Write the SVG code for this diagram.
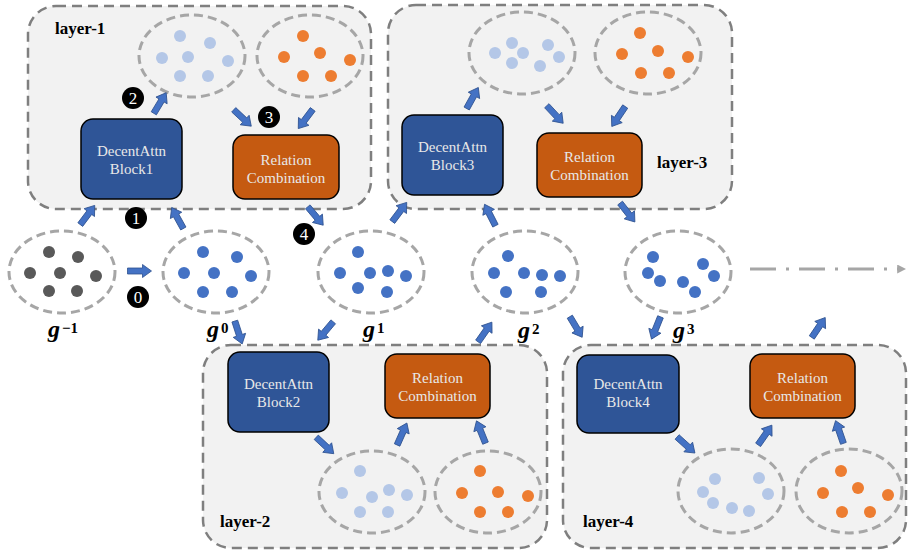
<svg xmlns="http://www.w3.org/2000/svg" xmlns:xlink="http://www.w3.org/1999/xlink" width="908" height="550" viewBox="0 0 908 550">
<style>
.layer{fill:#F2F2F2;stroke:#7F7F7F;stroke-width:2.5;stroke-dasharray:10 6}
.ell{fill:none;stroke:#A6A6A6;stroke-width:3;stroke-dasharray:9 5}
.ellw{fill:#FFFFFF;stroke:#A6A6A6;stroke-width:3;stroke-dasharray:9 5}
.blk{fill:#2F5597;stroke:#000;stroke-width:1.5}
.rel{fill:#C55A11;stroke:#000;stroke-width:1.5}
.bt{font-family:"Liberation Serif","Times New Roman",serif;font-size:15px;fill:#E8E8E8;text-anchor:middle}
.lt{font-family:"Liberation Serif","Times New Roman",serif;font-size:17px;font-weight:bold;fill:#000}
.gl{font-family:"Liberation Serif","Times New Roman",serif;font-size:24px;font-weight:bold;font-style:italic;fill:#000}
.sup{font-size:15px;font-style:normal}
.gray{fill:#595959}
.blue{fill:#4472C4}
.lb{fill:#B4C7E7}
.or{fill:#ED7D31}
.badge circle{fill:#000}
.badge text{font-family:"Liberation Serif","Times New Roman",serif;font-size:17px;fill:#FFF;text-anchor:middle}
.ba{fill:#4472C4;stroke:#2F528F;stroke-width:0.8}
.dd{fill:none;stroke:#A6A6A6;stroke-width:3;stroke-dasharray:26 10 3 10}
</style>
<defs>
<path id="ba" d="M-12,-3 L3,-3 L3,-6.5 L12,0 L3,6.5 L3,3 L-12,3 Z"/>
<marker id="ddh" viewBox="0 0 10 10" refX="2" refY="5" markerWidth="3" markerHeight="3" orient="auto">
<path d="M0,0 L10,5 L0,10 Z" fill="#A6A6A6"/>
</marker>
</defs>

<!-- containers -->
<g id="layer-1">
<rect class="layer" x="28" y="6" width="343" height="203" rx="28"/>
<text class="lt" x="55" y="34">layer-1</text>
</g>
<g id="layer-3">
<rect class="layer" x="388" y="5" width="344" height="204" rx="28"/>
<text class="lt" x="657" y="168">layer-3</text>
</g>
<g id="layer-2">
<rect class="layer" x="203" y="345" width="344" height="203" rx="28"/>
<text class="lt" x="220" y="527">layer-2</text>
</g>
<g id="layer-4">
<rect class="layer" x="563" y="345" width="343" height="203" rx="28"/>
<text class="lt" x="583" y="527">layer-4</text>
</g>

<!-- layer-1 contents -->
<g id="attn1-out">
<ellipse class="ell" cx="192" cy="56" rx="53" ry="41"/>
<g class="lb"><circle cx="180" cy="36" r="6"/><circle cx="210" cy="43" r="6"/><circle cx="162" cy="58" r="6"/><circle cx="188" cy="57" r="6"/><circle cx="228" cy="61" r="6"/><circle cx="180" cy="76" r="6"/><circle cx="208" cy="76" r="6"/></g>
</g>
<g id="rel1-in">
<ellipse class="ell" cx="310" cy="56" rx="53" ry="41"/>
<g class="or"><circle cx="303" cy="36" r="6"/><circle cx="284" cy="57" r="6"/><circle cx="320" cy="53" r="6"/><circle cx="350" cy="60" r="6"/><circle cx="303" cy="76" r="6"/><circle cx="331" cy="76" r="6"/></g>
</g>
<g id="block1">
<rect class="blk" x="81" y="119" width="101" height="80" rx="12"/>
<text class="bt" x="131.5" y="156">DecentAttn</text>
<text class="bt" x="131.5" y="174">Block1</text>
</g>
<g id="rel1">
<rect class="rel" x="233" y="135" width="106" height="64" rx="12"/>
<text class="bt" x="286" y="165">Relation</text>
<text class="bt" x="286" y="183">Combination</text>
</g>

<!-- layer-3 contents -->
<g id="attn3-out">
<ellipse class="ell" cx="522" cy="53" rx="53" ry="41"/>
<g class="lb"><circle cx="512" cy="43" r="6"/><circle cx="548" cy="45" r="6"/><circle cx="495" cy="53" r="6"/><circle cx="523" cy="53" r="6"/><circle cx="559" cy="57" r="6"/><circle cx="512" cy="63" r="6"/><circle cx="540" cy="66" r="6"/></g>
</g>
<g id="rel3-in">
<ellipse class="ell" cx="648" cy="53" rx="53" ry="41"/>
<g class="or"><circle cx="640" cy="33" r="6"/><circle cx="622" cy="54" r="6"/><circle cx="658" cy="51" r="6"/><circle cx="688" cy="57" r="6"/><circle cx="641" cy="73" r="6"/><circle cx="669" cy="73" r="6"/></g>
</g>
<g id="block3">
<rect class="blk" x="402" y="115" width="101" height="80" rx="12"/>
<text class="bt" x="452.5" y="152">DecentAttn</text>
<text class="bt" x="452.5" y="170">Block3</text>
</g>
<g id="rel3">
<rect class="rel" x="537" y="133" width="105" height="64" rx="12"/>
<text class="bt" x="589.5" y="162">Relation</text>
<text class="bt" x="589.5" y="180">Combination</text>
</g>

<!-- layer-2 contents -->
<g id="block2">
<rect class="blk" x="228" y="352" width="101" height="80" rx="12"/>
<text class="bt" x="278.5" y="389">DecentAttn</text>
<text class="bt" x="278.5" y="407">Block2</text>
</g>
<g id="rel2">
<rect class="rel" x="385" y="354" width="105" height="64" rx="12"/>
<text class="bt" x="437.5" y="383">Relation</text>
<text class="bt" x="437.5" y="401">Combination</text>
</g>
<g id="attn2-out">
<ellipse class="ell" cx="372" cy="492" rx="53" ry="41"/>
<g class="lb"><circle cx="360" cy="471" r="6"/><circle cx="342" cy="493" r="6"/><circle cx="372" cy="497" r="6"/><circle cx="389" cy="490" r="6"/><circle cx="407" cy="495" r="6"/><circle cx="360" cy="512" r="6"/><circle cx="388" cy="512" r="6"/></g>
</g>
<g id="rel2-in">
<ellipse class="ell" cx="488" cy="492" rx="53" ry="41"/>
<g class="or"><circle cx="480" cy="471" r="6"/><circle cx="462" cy="493" r="6"/><circle cx="498" cy="492" r="6"/><circle cx="528" cy="496" r="6"/><circle cx="480" cy="512" r="6"/><circle cx="508" cy="512" r="6"/></g>
</g>

<!-- layer-4 contents -->
<g id="block4">
<rect class="blk" x="577" y="355" width="102" height="78" rx="12"/>
<text class="bt" x="628" y="389">DecentAttn</text>
<text class="bt" x="628" y="407">Block4</text>
</g>
<g id="rel4">
<rect class="rel" x="750" y="354" width="105" height="64" rx="12"/>
<text class="bt" x="802.5" y="383">Relation</text>
<text class="bt" x="802.5" y="401">Combination</text>
</g>
<g id="attn4-out">
<ellipse class="ell" cx="731" cy="491" rx="53" ry="42"/>
<g class="lb"><circle cx="715" cy="479" r="6"/><circle cx="703" cy="492" r="6"/><circle cx="713" cy="503" r="6"/><circle cx="732" cy="508" r="6"/><circle cx="749" cy="511" r="6"/><circle cx="759" cy="478" r="6"/><circle cx="768" cy="494" r="6"/></g>
</g>
<g id="rel4-in">
<ellipse class="ell" cx="849" cy="491" rx="53" ry="42"/>
<g class="or"><circle cx="841" cy="471" r="6"/><circle cx="823" cy="493" r="6"/><circle cx="858" cy="488" r="6"/><circle cx="888" cy="495" r="6"/><circle cx="842" cy="512" r="6"/><circle cx="870" cy="512" r="6"/></g>
</g>

<!-- graph nodes -->
<g id="g-1">
<ellipse class="ellw" cx="62" cy="272" rx="53" ry="41"/>
<g class="gray"><circle cx="49" cy="252" r="6"/><circle cx="78" cy="257" r="6"/><circle cx="30" cy="273" r="6"/><circle cx="60" cy="273" r="6"/><circle cx="96" cy="276" r="6"/><circle cx="49" cy="291" r="6"/><circle cx="77" cy="291" r="6"/></g>
<text class="gl" x="48" y="337">g<tspan class="sup" dx="2" dy="-4">−1</tspan></text>
</g>
<g id="g0">
<ellipse class="ellw" cx="216" cy="272" rx="53" ry="41"/>
<g class="blue"><circle cx="203" cy="252" r="6"/><circle cx="237" cy="257" r="6"/><circle cx="184" cy="273" r="6"/><circle cx="214" cy="273" r="6"/><circle cx="251" cy="276" r="6"/><circle cx="203" cy="292" r="6"/><circle cx="232" cy="292" r="6"/></g>
<text class="gl" x="207" y="337">g<tspan class="sup" dx="2" dy="-4">0</tspan></text>
</g>
<g id="g1">
<ellipse class="ellw" cx="371" cy="272" rx="53" ry="41"/>
<g class="blue"><circle cx="358" cy="252" r="6"/><circle cx="340" cy="273" r="6"/><circle cx="370" cy="273" r="6"/><circle cx="388" cy="271" r="6"/><circle cx="406" cy="276" r="6"/><circle cx="358" cy="288" r="6"/><circle cx="387" cy="292" r="6"/></g>
<text class="gl" x="363" y="337">g<tspan class="sup" dx="2" dy="-4">1</tspan></text>
</g>
<g id="g2">
<ellipse class="ellw" cx="525" cy="272" rx="53" ry="41"/>
<g class="blue"><circle cx="508" cy="256" r="6"/><circle cx="494" cy="273" r="6"/><circle cx="524" cy="273" r="6"/><circle cx="542" cy="275" r="6"/><circle cx="560" cy="276" r="6"/><circle cx="506" cy="292" r="6"/><circle cx="541" cy="292" r="6"/></g>
<text class="gl" x="518" y="338">g<tspan class="sup" dx="2" dy="-4">2</tspan></text>
</g>
<g id="g3">
<ellipse class="ellw" cx="678" cy="272" rx="53" ry="41"/>
<g class="blue"><circle cx="653" cy="257" r="6"/><circle cx="648" cy="273" r="6"/><circle cx="660" cy="281" r="6"/><circle cx="683" cy="282" r="6"/><circle cx="695" cy="292" r="6"/><circle cx="703" cy="264" r="6"/><circle cx="714" cy="276" r="6"/></g>
<text class="gl" x="673" y="338">g<tspan class="sup" dx="2" dy="-4">3</tspan></text>
</g>

<!-- step badges -->
<g id="badges" class="badge">
<g><circle cx="138" cy="297" r="11"/><text x="138" y="303">0</text></g>
<g><circle cx="136" cy="218" r="11"/><text x="136" y="224">1</text></g>
<g><circle cx="133" cy="98" r="11"/><text x="133" y="104">2</text></g>
<g><circle cx="269" cy="117" r="11"/><text x="269" y="123">3</text></g>
<g><circle cx="304" cy="234" r="11"/><text x="304" y="240">4</text></g>
</g>

<!-- connectors -->
<g id="connectors">
<g class="ba">
<use xlink:href="#ba" href="#ba" transform="translate(160,103) rotate(-59)"/>
<use xlink:href="#ba" href="#ba" transform="translate(242.5,118) rotate(43)"/>
<use xlink:href="#ba" href="#ba" transform="translate(305.5,119) rotate(127)"/>
<use xlink:href="#ba" href="#ba" transform="translate(87.5,215) rotate(-53)"/>
<use xlink:href="#ba" href="#ba" transform="translate(177.5,218) rotate(-119)"/>
<use xlink:href="#ba" href="#ba" transform="translate(315.5,216) rotate(50)"/>
<use xlink:href="#ba" href="#ba" transform="translate(399.5,212) rotate(-53)"/>
<use xlink:href="#ba" href="#ba" transform="translate(139.5,271) rotate(0)"/>
<use xlink:href="#ba" href="#ba" transform="translate(238.5,332.5) rotate(72)"/>
<use xlink:href="#ba" href="#ba" transform="translate(325.5,331) rotate(130)"/>
<use xlink:href="#ba" href="#ba" transform="translate(490,215) rotate(-117)"/>
<use xlink:href="#ba" href="#ba" transform="translate(627.5,212.5) rotate(52)"/>
<use xlink:href="#ba" href="#ba" transform="translate(576,327) rotate(59)"/>
<use xlink:href="#ba" href="#ba" transform="translate(485,332) rotate(-55)"/>
<use xlink:href="#ba" href="#ba" transform="translate(656,328) rotate(112)"/>
<use xlink:href="#ba" href="#ba" transform="translate(818.5,327.5) rotate(-56)"/>
<use xlink:href="#ba" href="#ba" transform="translate(472.5,98) rotate(-61)"/>
<use xlink:href="#ba" href="#ba" transform="translate(555,114.5) rotate(47)"/>
<use xlink:href="#ba" href="#ba" transform="translate(618.5,116.5) rotate(124)"/>
<use xlink:href="#ba" href="#ba" transform="translate(325,445.5) rotate(43)"/>
<use xlink:href="#ba" href="#ba" transform="translate(402,434) rotate(-66)"/>
<use xlink:href="#ba" href="#ba" transform="translate(481,432) rotate(-112)"/>
<use xlink:href="#ba" href="#ba" transform="translate(686,445) rotate(42)"/>
<use xlink:href="#ba" href="#ba" transform="translate(765,435) rotate(-55)"/>
<use xlink:href="#ba" href="#ba" transform="translate(839.5,432) rotate(-109)"/>
</g>
<path class="dd" d="M750,269 L899,269" marker-end="url(#ddh)"/>
</g>
</svg>
